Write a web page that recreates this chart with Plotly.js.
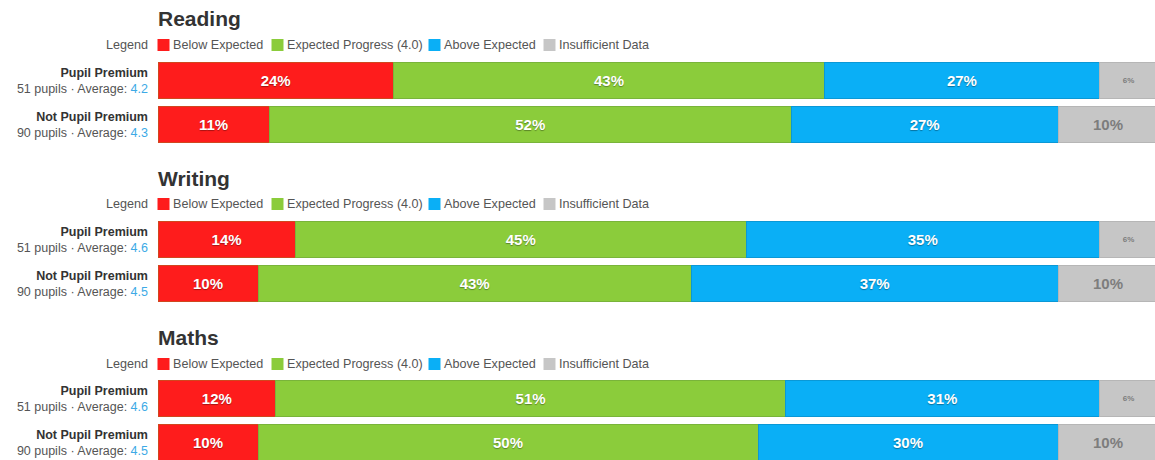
<!DOCTYPE html>
<html>
<head>
<meta charset="utf-8">
<script src="https://cdn.plot.ly/plotly-3.0.1.min.js"></script>
<style>
html,body{margin:0;padding:0;background:#fff;}
#chart{width:1155px;height:460px;}
</style>
</head>
<body>
<div id="chart"></div>
<script>
// ---- data ----
var subjects = ['Reading', 'Writing', 'Maths'];
var groups = ['Pupil Premium', 'Not Pupil Premium'];
var pupils = [51, 90];
var averages = [[4.2, 4.3], [4.6, 4.5], [4.6, 4.5]];
var categoryNames = ['Below Expected', 'Expected Progress (4.0)', 'Above Expected', 'Insufficient Data'];
// pupil counts per subject: [Pupil Premium, Not Pupil Premium]
var belowExpected = [[12, 10], [7, 9], [6, 9]];
var expectedProgress = [[22, 47], [23, 39], [26, 45]];
var aboveExpected = [[14, 24], [18, 33], [16, 27]];
var insufficientData = [[3, 9], [3, 9], [3, 9]];

// ---- styling / layout ----
var W = 1155, H = 460, L = 158, PW = W - L;
var FONT = '"Liberation Sans", Arial, Helvetica, sans-serif';
var colors = ['#fe1c1c', '#8bcc3b', '#0aaff6', '#c6c6c6'];
var lineColors = ['#d0471e', '#79b43a', '#0a98d6', '#b6b6b6'];
var seriesValues = [belowExpected, expectedProgress, aboveExpected, insufficientData];
var sections = [
  {top: 58, bottom: 147, range: [1.5, -0.5], titleY: 18, legendY: 45},
  {top: 217.5, bottom: 305.5, range: [1.5, -0.5], titleY: 178, legendY: 204},
  {top: 376.5, bottom: 460, range: [1.398, -0.5], titleY: 337, legendY: 364}
];
var legendSquareX = [157.5, 271.5, 428.5, 543.5];

function px(x) { return (x - L) / PW; }
function py(y) { return 1 - y / H; }

var traces = [];
var layout = {
  width: W, height: H,
  margin: {l: L, r: 0, t: 0, b: 0, pad: 0},
  paper_bgcolor: '#fff', plot_bgcolor: '#fff',
  barmode: 'stack', bargap: 0.2,
  showlegend: false, hovermode: false,
  font: {family: FONT, color: '#444'},
  xaxis: {range: [0, 99.7], visible: false, fixedrange: true},
  annotations: [], shapes: []
};

subjects.forEach(function (subj, s) {
  var yName = s === 0 ? 'y' : 'y' + (s + 1);
  var axKey = s === 0 ? 'yaxis' : 'yaxis' + (s + 1);
  var sec = sections[s];
  var ticktext = groups.map(function (g, gi) {
    return '<b><span style="color:#333">' + g + '</span></b><br>' +
      '<span style="color:#555">' + pupils[gi] + ' pupils · Average: </span>' +
      '<span style="color:#3daae6">' + averages[s][gi].toFixed(1) + '</span>';
  });
  layout[axKey] = {
    domain: [py(sec.bottom), py(sec.top)],
    type: 'category',
    range: sec.range,
    anchor: 'x',
    showgrid: false, zeroline: false, showline: false,
    ticks: '',
    tickmode: 'array', tickvals: groups, ticktext: ticktext,
    tickfont: {family: FONT, size: 12.5, color: '#555'},
    ticklabelstandoff: 9,
    fixedrange: true
  };
  seriesValues.forEach(function (vals, k) {
    var counts = vals[s];
    var pct = counts.map(function (c, gi) { return c / pupils[gi] * 100; });
    var isGray = (k === 3);
    traces.push({
      type: 'bar', orientation: 'h',
      x: pct, y: groups, yaxis: yName, xaxis: 'x',
      name: categoryNames[k],
      marker: {color: colors[k], line: {color: lineColors[k], width: 1}},
      text: pct.map(function (d) { return Math.round(d) + '%'; }),
      textposition: 'inside', insidetextanchor: 'middle',
      constraintext: 'none',
      textfont: {
        family: FONT,
        size: pct.map(function (d) { return d < 8 ? 8 : 15; }),
        color: isGray ? '#7d7d7d' : '#fff',
        weight: 'bold',
        shadow: isGray ? 'none' : '0px 1px 1px rgba(0,0,0,0.35)'
      },
      hoverinfo: 'skip'
    });
  });
  layout.annotations.push({
    xref: 'paper', yref: 'paper', x: 0, y: py(sec.titleY),
    xanchor: 'left', yanchor: 'middle', showarrow: false, xshift: -2,
    text: '<b>' + subj + '</b>', font: {family: FONT, size: 21, color: '#333'}
  });
  layout.annotations.push({
    xref: 'paper', yref: 'paper', x: 0, y: py(sec.legendY),
    xanchor: 'right', yanchor: 'middle', showarrow: false, xshift: -8,
    text: 'Legend', font: {family: FONT, size: 12.6, color: '#555'}
  });
  categoryNames.forEach(function (c, k) {
    var sx = legendSquareX[k];
    layout.shapes.push({
      type: 'rect', xref: 'paper', yref: 'paper',
      x0: px(sx), x1: px(sx + 12), y0: py(sec.legendY + 6), y1: py(sec.legendY - 6),
      fillcolor: colors[k], line: {width: 0}
    });
    layout.annotations.push({
      xref: 'paper', yref: 'paper', x: px(sx + 13.5), y: py(sec.legendY),
      xanchor: 'left', yanchor: 'middle', showarrow: false,
      text: c, font: {family: FONT, size: 12.6, color: '#555'}
    });
  });
});

Plotly.newPlot('chart', traces, layout, {displayModeBar: false, staticPlot: true});
</script>
</body>
</html>
